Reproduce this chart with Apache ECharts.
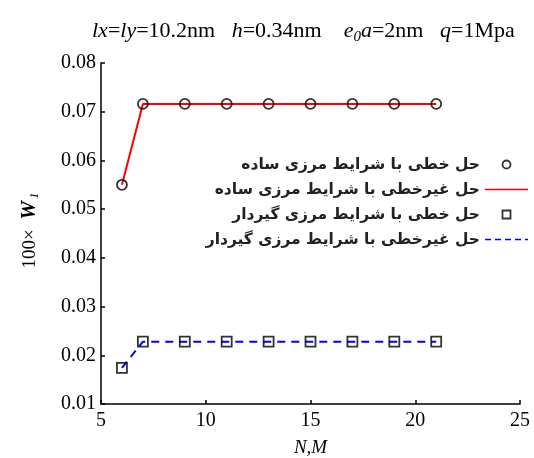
<!DOCTYPE html>
<html><head><meta charset="utf-8">
<script src="https://cdn.jsdelivr.net/npm/echarts@6/dist/echarts.min.js"></script>
<style>html,body{margin:0;padding:0;background:#fff}#c{width:534px;height:458px}</style>
</head><body><div id="c"></div>
<script>
const nm = [6, 7, 9, 11, 13, 15, 17, 19, 21];
const linearSimple = [0.055, 0.0716, 0.0716, 0.0716, 0.0716, 0.0716, 0.0716, 0.0716, 0.0716];
const nonlinearSimple = [0.055, 0.0716, 0.0716, 0.0716, 0.0716, 0.0716, 0.0716, 0.0716, 0.0716];
const linearClamped = [0.0174, 0.0228, 0.0228, 0.0228, 0.0228, 0.0228, 0.0228, 0.0228, 0.0228];
const nonlinearClamped = [0.0174, 0.0228, 0.0228, 0.0228, 0.0228, 0.0228, 0.0228, 0.0228, 0.0228];
const names = ['حل خطی با شرایط مرزی ساده', 'حل غیرخطی با شرایط مرزی ساده', 'حل خطی با شرایط مرزی گیردار', 'حل غیرخطی با شرایط مرزی گیردار'];
const pairs = v => nm.map((x, i) => [x, v[i]]);
const serif = 'Liberation Serif';
const solidIcon = 'path://M0,0L43,0L43,1.6L0,1.6Z';
const dashIcon = 'path://M0,0h6v1.6h-6zM10,0h6v1.6h-6zM20,0h6v1.6h-6zM30,0h6v1.6h-6zM40,0h3v1.6h-3z';
const sqIcon = 'path://M0,0L10,0L10,10L0,10Z';
const chart = echarts.init(document.getElementById('c'));
chart.setOption({
  animation: false,
  title: {
    text: '{i|lx}={i|ly}=10.2nm   {i|h}=0.34nm    {i|e}{sub|0}{i|a}=2nm   {i|q}=1Mpa',
    left: 92, top: 18, padding: 0,
    textStyle: {
      fontFamily: serif, fontSize: 22, fontWeight: 'normal', color: '#000',
      rich: {
        i: {fontFamily: serif, fontSize: 22, fontStyle: 'italic', color: '#000'},
        sub: {fontFamily: serif, fontSize: 15, fontStyle: 'italic', color: '#000', verticalAlign: 'bottom', padding: [12, 0, 0, 0]}
      }
    }
  },
  grid: {left: 101, right: 14, top: 63, bottom: 54, outerBoundsMode: 'none', containLabel: false},
  legend: {
    orient: 'vertical', right: 6, top: 155, align: 'right', itemGap: 6, padding: 0,
    itemWidth: 43, itemHeight: 8,
    textStyle: {fontFamily: 'DejaVu Sans', fontSize: 15.5, fontWeight: 'bold', color: '#222', lineHeight: 19},
    data: [
      {name: names[0], icon: 'circle', itemStyle: {color: 'rgba(255,255,255,0)', borderColor: '#000', borderWidth: 1.8}},
      {name: names[1], icon: solidIcon, itemStyle: {color: '#ff0000', borderWidth: 0}},
      {name: names[2], icon: sqIcon, itemStyle: {color: 'rgba(255,255,255,0)', borderColor: '#000', borderWidth: 1.8}},
      {name: names[3], icon: dashIcon, itemStyle: {color: '#0000ff', borderWidth: 0}}
    ]
  },
  xAxis: {
    type: 'value', min: 5, max: 25, interval: 5,
    name: 'N,M', nameLocation: 'middle', nameGap: 34,
    nameTextStyle: {fontFamily: serif, fontSize: 19, fontStyle: 'italic', color: '#000'},
    axisLine: {onZero: false, lineStyle: {color: '#000', width: 1.5}},
    axisTick: {inside: true, length: 4, lineStyle: {color: '#000', width: 1.5}},
    axisLabel: {fontFamily: serif, fontSize: 20, color: '#000', margin: 7},
    splitLine: {show: false}
  },
  yAxis: {
    type: 'value', min: 0.01, max: 0.08, interval: 0.01,
    name: '100×  {w|W}{s|1}', nameLocation: 'middle', nameRotate: 90, nameGap: 60,
    nameTextStyle: {fontFamily: serif, fontSize: 19, color: '#000', padding: [0, 0, 0, 6],
      rich: {
        w: {fontFamily: serif, fontSize: 21, fontStyle: 'italic', fontWeight: 'bold', color: '#000'},
        s: {fontFamily: serif, fontSize: 13, fontStyle: 'italic', color: '#000', verticalAlign: 'bottom', padding: [9, 0, 0, 2]}
      }},
    axisLine: {lineStyle: {color: '#000', width: 1.5}},
    axisTick: {inside: true, length: 4, lineStyle: {color: '#000', width: 1.5}},
    axisLabel: {fontFamily: serif, fontSize: 20, color: '#000', margin: 5, formatter: v => v.toFixed(2)},
    splitLine: {show: false}
  },
  series: [
    {name: names[1], type: 'line', data: pairs(nonlinearSimple), showSymbol: false, symbol: 'none',
     lineStyle: {color: '#ff0000', width: 2}, itemStyle: {color: '#ff0000'}, z: 2},
    {name: names[0], type: 'scatter', data: pairs(linearSimple), symbol: 'circle', symbolSize: 10,
     itemStyle: {color: 'rgba(255,255,255,0)', borderColor: '#000', borderWidth: 1.8}, z: 3},
    {name: names[3], type: 'line', data: pairs(nonlinearClamped), showSymbol: false, symbol: 'none',
     lineStyle: {color: '#0000ff', width: 2, type: [8, 6]}, itemStyle: {color: '#0000ff'}, z: 2},
    {name: names[2], type: 'scatter', data: pairs(linearClamped), symbol: 'rect', symbolSize: 10,
     itemStyle: {color: 'rgba(255,255,255,0)', borderColor: '#000', borderWidth: 1.8}, z: 3}
  ]
});
</script></body></html>
